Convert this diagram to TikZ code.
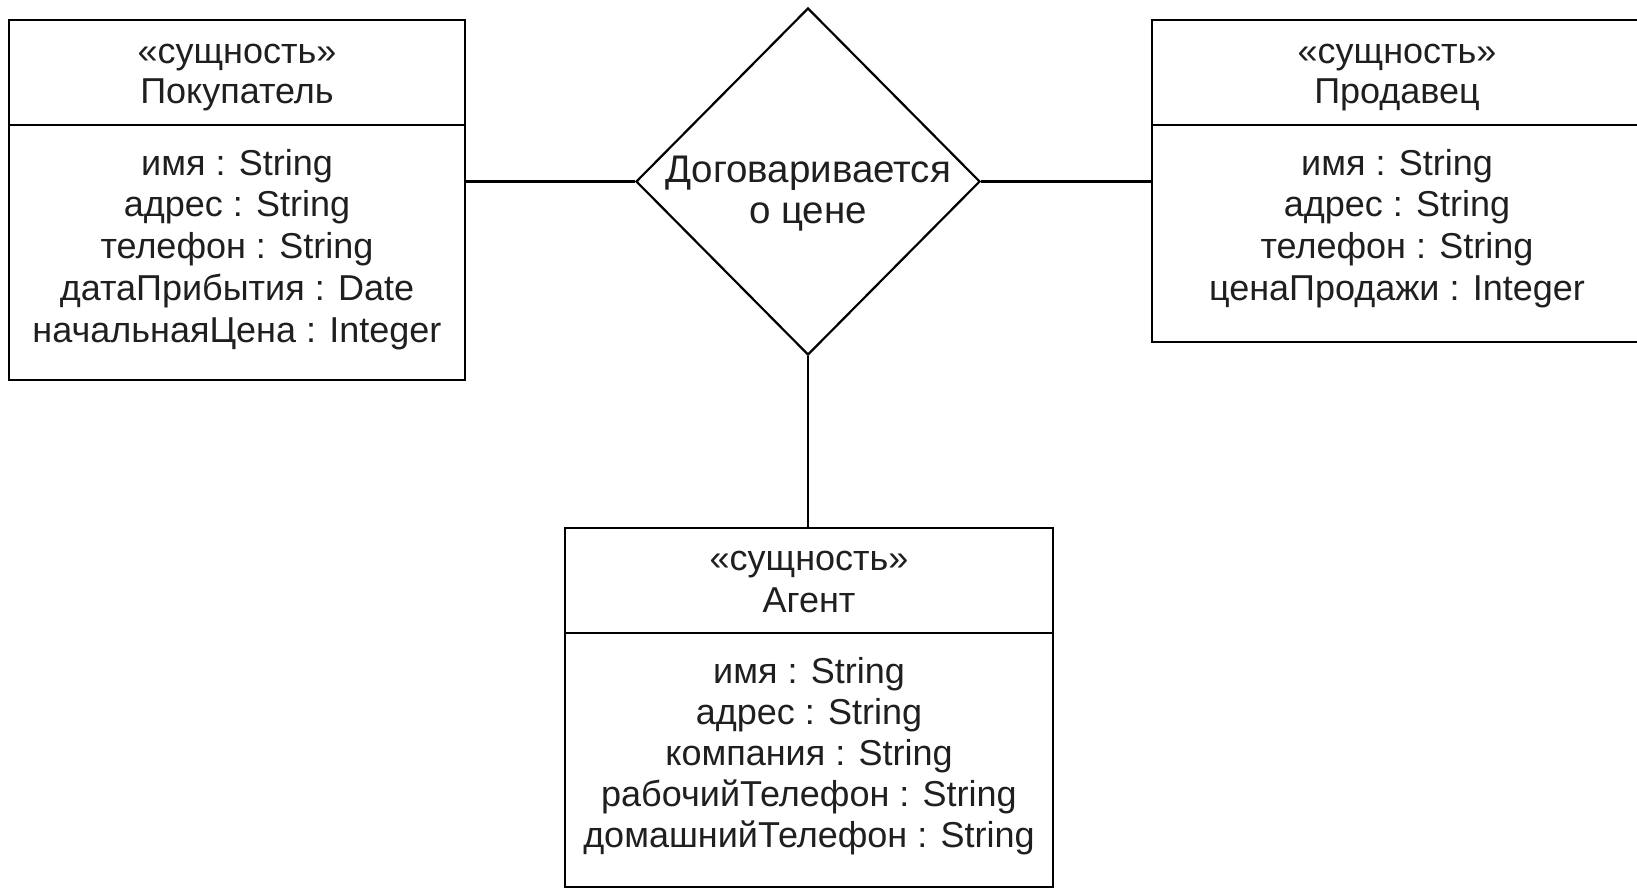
\documentclass[tikz,border=0pt]{standalone}
\usepackage{fontspec}
\setmainfont{Liberation Sans}
\usetikzlibrary{shapes.geometric}

% Lines of an entity compartment, one node per line, set on their baselines:
% #1 name prefix, #2 x of the centre, #3 first baseline, #4 step, #5 lines
\newcommand\entitytext[5]{%
  \foreach \t [count=\i] in {#5} {%
    \node[label, anchor=base] (#1-\i) at (#2, {#3+#4*(\i-1)}) {\t};
  }%
}

\begin{document}
\begin{tikzpicture}[x=1pt, y=-1pt,
  entity/.style={draw, rectangle, line width=2.4pt, inner sep=0pt},
  relation/.style={draw, diamond, line width=2.2pt, inner sep=0pt},
  divider/.style={line width=2.2pt},
  link/.style={line width=2.2pt},
  label/.style={font=\fontsize{36}{41.7}\selectfont, text=black!88, inner sep=0pt},
  biglabel/.style={label, font=\fontsize{38.5}{44}\selectfont}]
\useasboundingbox (0,0) rectangle (1637,889);
\clip (0,0) rectangle (1637,889);

% entity boxes
\node[entity, minimum width=456pt, minimum height=360pt] (buyer)  at (237,200) {};
\node[entity, minimum width=490pt, minimum height=322pt] (seller) at (1397,181) {};
\node[entity, minimum width=488pt, minimum height=359pt] (agent)  at (809,707.5) {};

% compartment dividers
\draw[divider] (9,125) -- (465,125);
\draw[divider] (1152,125) -- (1642,125);
\draw[divider] (565,633) -- (1053,633);

% relationship
\node[relation, minimum width=344pt, minimum height=347pt] (deal) at (808,181.5) {};
\node[biglabel, anchor=base] (deal-1) at (808,182) {Договаривается};
\node[biglabel, anchor=base] (deal-2) at (808,223) {о цене};

% texts of the entities
\entitytext{buyerhead}{237}{63}{40}{«сущность», Покупатель}
\entitytext{buyerattr}{237}{175}{41.75}{имя : String, адрес : String, телефон : String, датаПрибытия : Date, начальнаяЦена : Integer}

\entitytext{sellerhead}{1397}{63}{40}{«сущность», Продавец}
\entitytext{sellerattr}{1397}{175}{41.75}{имя : String, адрес : String, телефон : String, ценаПродажи : Integer}

\entitytext{agenthead}{809}{570}{42}{«сущность», Агент}
\entitytext{agentattr}{809}{683}{41}{имя : String, адрес : String, компания : String, рабочийТелефон : String, домашнийТелефон : String}

% connectors
\draw[link] (deal.west -| buyer.east) -- (deal.west);
\draw[link] (deal.east) -- (deal.east -| seller.west);
\draw[link] (deal.south) -- (deal.south |- agent.north);
\end{tikzpicture}
\end{document}
